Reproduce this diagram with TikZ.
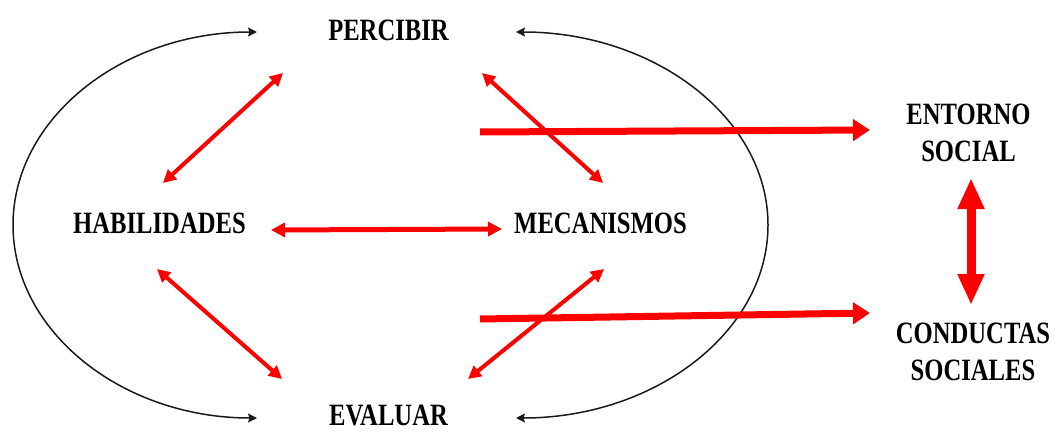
\documentclass[tikz,border=0pt]{standalone}
\usepackage{fontspec}
\newfontfamily\lblfont{Liberation Serif}[FakeStretch=0.795]
\usetikzlibrary{arrows.meta}
\tikzset{
  lbl/.style={font=\lblfont\bfseries\fontsize{31}{37}\selectfont, inner sep=0pt, align=center},
  loopline/.style={draw=black!90, line width=1.5pt, {Stealth[length=9pt,width=9pt,inset=1.5pt]}-{Stealth[length=9pt,width=9pt,inset=1.5pt]}},
  thinred/.style={draw=red, line width=4pt, {Triangle[length=13pt,width=13pt]}-{Triangle[length=13pt,width=13pt]}},
  midred/.style={draw=red, line width=5pt, {Triangle[length=14pt,width=14pt]}-{Triangle[length=14pt,width=14pt]}},
  thickred/.style={draw=red, line width=7pt, -{Triangle[length=17pt,width=21pt]}},
  vertred/.style={draw=red, line width=9pt, {Triangle[length=31pt,width=25pt]}-{Triangle[length=31pt,width=25pt]}}
}
\begin{document}
\begin{tikzpicture}[x=1pt,y=1pt]
\useasboundingbox (0,0) rectangle (1056,432);
% labels
\node[lbl, anchor=base] (per) at (388.5,391) {PERCIBIR};
\node[lbl, anchor=base] (hab) at (159.5,199) {HABILIDADES};
\node[lbl, anchor=base] (mec) at (600.5,199) {MECANISMOS};
\node[lbl, anchor=base] (eva) at (388.5,7) {EVALUAR};
\node[lbl] (ent) at (968.5,299.5) {ENTORNO\\SOCIAL};
\node[lbl] (con) at (973,80) {CONDUCTAS\\SOCIALES};
% connector ends
\coordinate (ph1) at (283,359); \coordinate (ph2) at (163,249);
\coordinate (pm1) at (482,359); \coordinate (pm2) at (603,249);
\coordinate (hm1) at (271,202); \coordinate (hm2) at (502,203);
\coordinate (he1) at (157,163); \coordinate (he2) at (282,53);
\coordinate (me1) at (604,163); \coordinate (me2) at (468,53);
\coordinate (te1) at (480,300); \coordinate (te2) at (870,302);
\coordinate (tc1) at (480,113); \coordinate (tc2) at (870,119);
\coordinate (ec1) at (971,254); \coordinate (ec2) at (971,127);
\coordinate (lc) at (257,400);
\coordinate (rc) at (516,400);
% black loops
\draw[loopline] (lc) arc[start angle=90, end angle=270, x radius=244, y radius=193];
\draw[loopline] (rc) arc[start angle=90, end angle=-90, x radius=252, y radius=193];
% red arrows
\draw[thinred] (ph1) -- (ph2);
\draw[thinred] (pm1) -- (pm2);
\draw[midred] (hm1) -- (hm2);
\draw[thinred] (he1) -- (he2);
\draw[thinred] (me1) -- (me2);
\draw[thickred] (te1) -- (te2);
\draw[thickred] (tc1) -- (tc2);
\draw[vertred] (ec1) -- (ec2);
\end{tikzpicture}
\end{document}
